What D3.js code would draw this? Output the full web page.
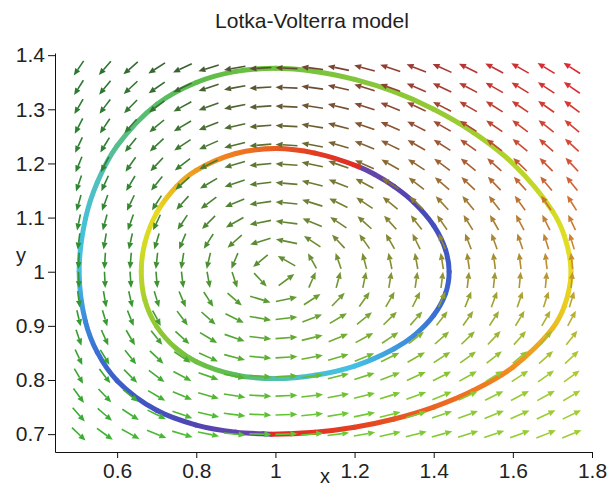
<!DOCTYPE html>
<html>
<head>
<meta charset="utf-8">
<script src="https://cdn.jsdelivr.net/npm/d3@7"></script>
<style>
  body { margin: 0; background: #fff; }
  svg { display: block; }
  text { font-family: "Liberation Sans", Arial, sans-serif; fill: #222; }
</style>
</head>
<body>
<svg id="chart"></svg>
<script>
const lvRates = [1, 0.3];

// direction field grid (20 x 20)
const fieldX = [0.503, 0.569, 0.634, 0.700, 0.765, 0.831, 0.897, 0.962, 1.028, 1.093,
                1.159, 1.225, 1.290, 1.356, 1.421, 1.487, 1.553, 1.618, 1.684, 1.749];
const fieldY = [0.700, 0.736, 0.771, 0.807, 0.842, 0.878, 0.914, 0.949, 0.985, 1.020,
                1.056, 1.091, 1.127, 1.163, 1.198, 1.234, 1.269, 1.305, 1.340, 1.376];

// outer orbit, in time order, with its hue along the trajectory
const outerX = [0.99, 1.1, 1.2, 1.3, 1.4, 1.5, 1.6, 1.7, 1.73, 1.747, 1.73, 1.7, 1.6, 1.5, 1.4, 1.3, 1.2,
                1.1, 1.0, 0.9, 0.8, 0.7, 0.6, 0.55, 0.52, 0.504, 0.52, 0.55, 0.6, 0.7, 0.8, 0.9, 0.97];
const outerY = [0.700, 0.7035, 0.7128, 0.728, 0.75, 0.7805, 0.8235, 0.8952, 0.936, 1.0, 1.0665, 1.1122,
                1.2, 1.2573, 1.30, 1.3325, 1.3553, 1.370, 1.3757, 1.370, 1.3495, 1.309, 1.2325, 1.1653,
                1.098, 1.0, 0.908, 0.851, 0.7988, 0.744, 0.7168, 0.7037, 0.7005];
const outerHue = [0, 3, 8, 14, 20, 26, 34, 48, 54, 58, 63, 68, 80, 88, 94, 98, 102, 106, 110, 115, 122,
                  135, 155, 178, 190, 196, 215, 222, 230, 240, 254, 264, 270];

// inner orbit
const innerX = [1.21, 1.1, 1.0, 0.9, 0.8, 0.75, 0.7, 0.67, 0.661, 0.67, 0.7, 0.75, 0.8, 0.9, 1.0, 1.1,
                1.2, 1.3, 1.35, 1.4, 1.43, 1.439, 1.43, 1.4, 1.35, 1.3, 1.25];
const innerY = [1.194, 1.219, 1.2275, 1.2183, 1.187, 1.1575, 1.1087, 1.053, 1.0, 0.948, 0.8988, 0.8577,
                0.8338, 0.8093, 0.8026, 0.8088, 0.8258, 0.8578, 0.882, 0.9195, 0.96, 1.0, 1.04, 1.085,
                1.128, 1.1575, 1.18];
const innerHue = [0, 6, 17, 28, 38, 46, 58, 67, 75, 85, 95, 105, 112, 128, 170, 190, 198, 210, 215, 222,
                  226, 230, 235, 242, 252, 260, 266];

const xTicks = [0.6, 0.8, 1, 1.2, 1.4, 1.6, 1.8];
const yTicks = [0.7, 0.8, 0.9, 1, 1.1, 1.2, 1.3, 1.4];

const width = 609, height = 489;
const svg = d3.select("#chart").attr("width", width).attr("height", height);

const x = d3.scaleLinear().domain([0.443, 1.8]).range([55, 592]);
const y = d3.scaleLinear().domain([0.667, 1.404]).range([452, 53]);

const hueColor = d3.scaleLinear()
    .domain([0, 30, 60, 90, 120, 180, 200, 225, 250, 270])
    .range(["#e02a24", "#f08020", "#e6e020", "#9ccc30", "#5cbc48", "#50c0c0",
            "#40c0e8", "#3a64d0", "#4a44b4", "#6a44a8"]);

const defs = svg.append("defs");

function drawOrbit(g, xs, ys, hues, id)
{
    let pts = xs.map((v, i) => [x(v), y(ys[i]), hues[i]]);
    let segs = [];
    let cur;
    // catch the closed catmull-rom curve piece by piece
    let ctx = {
        moveTo(a, b) { cur = [a, b]; },
        lineTo(a, b) { segs.push([cur, [a, b], `M${cur}L${a},${b}`]); cur = [a, b]; },
        bezierCurveTo(a1, b1, a2, b2, a, b) {
            segs.push([cur, [a, b], `M${cur}C${a1},${b1},${a2},${b2},${a},${b}`]);
            cur = [a, b];
        },
        closePath() {}
    };
    d3.line().curve(d3.curveCatmullRomClosed.alpha(0.5)).context(ctx)(pts);

    let hueAt = p => d3.least(pts, q => (q[0] - p[0]) ** 2 + (q[1] - p[1]) ** 2)[2];

    segs.forEach((s, i) => {
        let h0 = hueAt(s[0]), h1 = hueAt(s[1]);
        if (h1 < h0) h1 = h0;   // violet -> red jump stays sharp
        let gid = `${id}-${i}`;
        let grad = defs.append("linearGradient")
            .attr("id", gid)
            .attr("gradientUnits", "userSpaceOnUse")
            .attr("x1", s[0][0]).attr("y1", s[0][1])
            .attr("x2", s[1][0]).attr("y2", s[1][1]);
        grad.append("stop").attr("offset", 0).attr("stop-color", hueColor(h0));
        grad.append("stop").attr("offset", 1).attr("stop-color", hueColor(h1));
        g.append("path")
            .attr("d", s[2])
            .attr("fill", "none")
            .attr("stroke", `url(#${gid})`)
            .attr("stroke-width", 5)
            .attr("stroke-linecap", "round");
    });
}

let orbits = svg.append("g");
drawOrbit(orbits, outerX, outerY, outerHue, "outer");
drawOrbit(orbits, innerX, innerY, innerHue, "inner");

// arrows
const arrowLen = 0.041;   // fraction of plot size
const spanX = x.range()[1] - x.range()[0];
const spanY = y.range()[0] - y.range()[1];
const redOf = d3.scaleLinear().domain([-0.21, -0.1, 0, 0.16, 0.23, 0.31])
    .range([40, 58, 95, 160, 200, 222]).clamp(true);
const greenOf = d3.scaleLinear().domain([-0.66, -0.376, -0.19, 0, 0.15, 0.3, 0.525])
    .range([40, 75, 120, 145, 175, 200, 205]).clamp(true);

let cells = fieldY.flatMap(yv => fieldX.map(xv => {
    let vx = lvRates[0] * xv * (1 - yv);
    let vy = lvRates[1] * yv * (xv - 1);
    let sx = x(xv + vx) - x(xv), sy = y(yv + vy) - y(yv);
    let fx = sx / spanX, fy = sy / spanY;
    let n = Math.hypot(fx, fy) || 1;
    let dx = fx / n * arrowLen * spanX, dy = fy / n * arrowLen * spanY;
    let cx = x(xv), cy = y(yv);
    let tip = [cx + dx / 2, cy + dy / 2], tail = [cx - dx / 2, cy - dy / 2];
    let len = Math.hypot(dx, dy), ux = dx / len, uy = dy / len;
    let base = [tip[0] - ux * 7, tip[1] - uy * 7];
    return {
        tail: tail, tip: tip, base: base,
        left: [base[0] - uy * 3, base[1] + ux * 3],
        right: [base[0] + uy * 3, base[1] - ux * 3],
        color: d3.rgb(redOf(vy), greenOf(vx), 50).formatHex()
    };
}));

let arrows = svg.append("g").selectAll("g")
    .data(cells)
    .enter().append("g");
arrows.append("line")
    .attr("x1", d => d.tail[0]).attr("y1", d => d.tail[1])
    .attr("x2", d => d.base[0]).attr("y2", d => d.base[1])
    .attr("stroke", d => d.color)
    .attr("stroke-width", 1.6);
arrows.append("path")
    .attr("d", d => `M${d.tip}L${d.left}L${d.right}Z`)
    .attr("fill", d => d.color);

// axes
let xAxis = svg.append("g").attr("transform", `translate(0,${y.range()[0]})`);
xAxis.call(d3.axisBottom(x).tickValues(d3.range(0.48, 1.81, 0.04)).tickSize(3)
    .tickSizeOuter(0).tickFormat(""));
xAxis.call(d3.axisBottom(x).tickValues(xTicks).tickSize(6).tickSizeOuter(0)
    .tickPadding(5).tickFormat(d3.format("~g")));

let yAxis = svg.append("g").attr("transform", `translate(${x.range()[0]},0)`);
yAxis.call(d3.axisLeft(y).tickValues(d3.range(0.68, 1.405, 0.02)).tickSize(4)
    .tickSizeOuter(0).tickFormat(""));
yAxis.call(d3.axisLeft(y).tickValues(yTicks).tickSize(7).tickSizeOuter(0)
    .tickPadding(3).tickFormat(d3.format("~g")));

svg.selectAll(".tick text")
    .attr("font-size", 21)
    .attr("font-family", null)
    .attr("fill", "#222");
svg.selectAll(".domain, .tick line").attr("stroke", "#111");

svg.append("text")
    .attr("x", 312).attr("y", 28)
    .attr("text-anchor", "middle")
    .attr("font-size", 21)
    .text("Lotka-Volterra model");

svg.append("text")
    .attr("x", 21).attr("y", 262)
    .attr("text-anchor", "middle")
    .attr("font-size", 20)
    .text("y");

svg.append("text")
    .attr("x", 325).attr("y", 483)
    .attr("text-anchor", "middle")
    .attr("font-size", 20)
    .text("x");
</script>
</body>
</html>
